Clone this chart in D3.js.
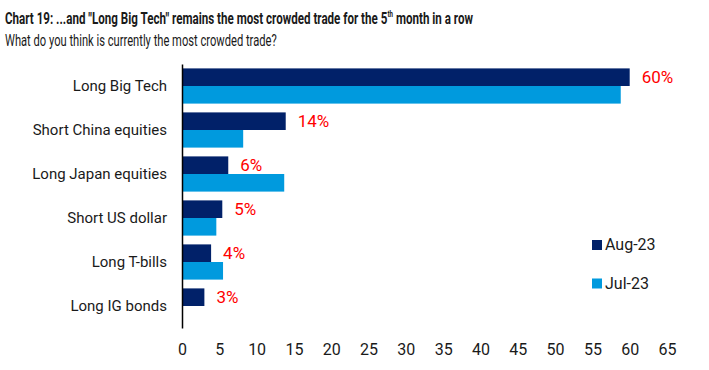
<!DOCTYPE html>
<html>
<head>
  <meta charset="utf-8">
  <style type="text/css">
    body { margin: 0; background: #fff; }
    svg text { font-family: Roboto, "Noto Sans", sans-serif; fill: #1a1a1a; }
    .axis .tick line { display: none; }
  </style>
</head>
<body>
<svg width="709" height="370"></svg>
<script src="https://d3js.org/d3.v7.min.js"></script>
<script>
  // data
  var categories = ["Long Big Tech", "Short China equities", "Long Japan equities",
                    "Short US dollar", "Long T-bills", "Long IG bonds"];
  var aug23 = [60, 13.9, 6.2, 5.4, 3.9, 3.0];
  var jul23 = [58.8, 8.2, 13.7, 4.6, 5.5, 0];
  var barLabels = ["60%", "14%", "6%", "5%", "4%", "3%"];
  var seriesNames = ["Aug-23", "Jul-23"];
  var xTicks = [0, 5, 10, 15, 20, 25, 30, 35, 40, 45, 50, 55, 60, 65];

  var colors = {"Aug-23": "#012169", "Jul-23": "#009ADE"};

  var svg = d3.select("svg");

  var x = d3.scaleLinear().domain([0, 65]).range([182, 667]);
  var y = d3.scaleBand().domain(categories).range([64, 328])
      .paddingInner(0.2).paddingOuter(0.1);
  var ySub = d3.scaleBand().domain(seriesNames).range([0, y.bandwidth()]).padding(0);

  var rows = categories.map(function(c, i) {
    return {cat: c, values: [aug23[i], jul23[i]], label: barLabels[i]};
  });

  // condensed text: pieces laid side by side then squeezed to a target width
  function condensed(parent, tx, ty, width, pieces) {
    var g = parent.append("g");
    var inner = g.append("g");
    var cx = 0;
    pieces.forEach(function(p) {
      var t = inner.append("text")
          .attr("x", cx).attr("y", p.dy || 0)
          .attr("font-size", p.size)
          .attr("font-weight", p.weight || "normal")
          .text(p.text);
      cx += t.node().getComputedTextLength();
    });
    g.attr("transform", "translate(" + tx + "," + ty + ") scale(" + (width / cx) + ",1)");
  }

  condensed(svg, 5, 24, 468, [
    {text: "Chart 19: ...and \"Long Big Tech\" remains the most crowded trade for the 5", size: 17, weight: "bold"},
    {text: "th", size: 9, weight: "bold", dy: -7},
    {text: "\u00a0month in a row", size: 17, weight: "bold"}
  ]);

  condensed(svg, 5, 46, 272, [
    {text: "What do you think is currently the most crowded trade?", size: 16}
  ]);

  // bars
  var groups = svg.append("g").selectAll("g")
    .data(rows)
    .enter().append("g")
      .attr("transform", function(d) { return "translate(0," + y(d.cat) + ")"; });

  groups.selectAll("rect")
    .data(function(d) { return d.values.map(function(v, i) { return {key: seriesNames[i], value: v}; }); })
    .enter().append("rect")
      .attr("x", x(0))
      .attr("y", function(d) { return ySub(d.key); })
      .attr("width", function(d) { return x(d.value) - x(0); })
      .attr("height", ySub.bandwidth())
      .attr("fill", function(d) { return colors[d.key]; });

  groups.append("text")
      .attr("x", function(d) { return x(d.values[0]) + 12; })
      .attr("y", ySub("Aug-23") + ySub.bandwidth() / 2)
      .attr("dy", "0.35em")
      .attr("font-size", 17)
      .style("fill", "#ff0000")
      .text(function(d) { return d.label; });

  // axes
  var yAxis = svg.append("g")
      .attr("class", "axis")
      .attr("transform", "translate(" + x(0) + ",0)")
      .call(d3.axisLeft(y).tickSize(0).tickSizeOuter(0).tickPadding(15));
  yAxis.select(".domain").attr("stroke", "#000").attr("stroke-width", 1.5);
  yAxis.selectAll("text").attr("font-size", 15).attr("font-family", null);

  var xAxis = svg.append("g")
      .attr("class", "axis")
      .attr("transform", "translate(0,328)")
      .call(d3.axisBottom(x).tickValues(xTicks).tickSize(0).tickPadding(16));
  xAxis.select(".domain").remove();
  xAxis.selectAll("text").attr("font-size", 16).attr("font-family", null);

  // legend
  var legend = svg.append("g").selectAll("g")
    .data(seriesNames)
    .enter().append("g")
      .attr("transform", function(d, i) { return "translate(592," + (240 + i * 38.5) + ")"; });

  legend.append("rect")
      .attr("width", 10).attr("height", 10)
      .attr("fill", function(d) { return colors[d]; });

  legend.append("text")
      .attr("x", 13).attr("y", 10)
      .attr("font-size", 16)
      .text(function(d) { return d; });
</script>
</body>
</html>
